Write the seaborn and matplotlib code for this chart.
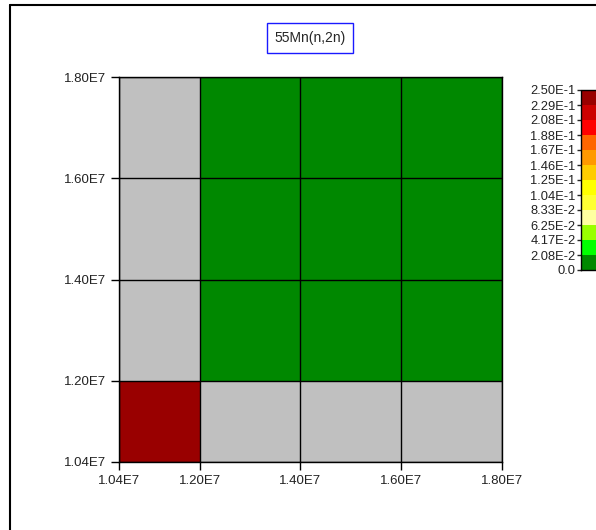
import numpy as np
import matplotlib
matplotlib.use("Agg")
import matplotlib.pyplot as plt
from matplotlib.colors import ListedColormap, BoundaryNorm
from matplotlib.lines import Line2D
import seaborn as sns

# Energy group boundaries (eV)
edges = [1.04e7, 1.20e7, 1.40e7, 1.60e7, 1.80e7]
tick_labels = ["1.04E7", "1.20E7", "1.40E7", "1.60E7", "1.80E7"]

# Relative covariance values (rows = y groups from bottom), NaN = no data
row0 = [0.24, np.nan, np.nan, np.nan]
row1 = [np.nan, 0.0, 0.0, 0.0]
row2 = [np.nan, 0.0, 0.0, 0.0]
row3 = [np.nan, 0.0, 0.0, 0.0]

# Colour scale levels and labels
levels = [0.0, 2.08e-2, 4.17e-2, 6.25e-2, 8.33e-2, 1.04e-1, 1.25e-1,
          1.46e-1, 1.67e-1, 1.88e-1, 2.08e-1, 2.29e-1, 2.50e-1]
level_labels = ["0.0", "2.08E-2", "4.17E-2", "6.25E-2", "8.33E-2", "1.04E-1",
                "1.25E-1", "1.46E-1", "1.67E-1", "1.88E-1", "2.08E-1",
                "2.29E-1", "2.50E-1"]
level_colors = ["#008800", "#00ff00", "#99ff00", "#ffffa0", "#ffff33", "#ffff00",
                "#ffcc00", "#ff9900", "#ff6600", "#ff0000", "#cc0000", "#990000"]

title = "55Mn(n,2n)"

sns.set_style("white")
plt.rcParams["font.family"] = ["Liberation Sans", "DejaVu Sans"]

fig = plt.figure(figsize=(5.96, 5.30), dpi=100)
ax = fig.add_axes([119 / 596, 1 - 462 / 530, 383 / 596, 385 / 530])

cmap = ListedColormap(level_colors)
cmap.set_bad("#c0c0c0")
norm = BoundaryNorm(levels, cmap.N)

data = np.ma.masked_invalid(np.array([row0, row1, row2, row3]))
mesh = ax.pcolormesh(edges, edges, data, cmap=cmap, norm=norm)

ax.set_xlim(edges[0], edges[-1])
ax.set_ylim(edges[0], edges[-1])
ax.set_xticks(edges)
ax.set_yticks(edges)
ax.set_xticklabels(tick_labels)
ax.set_yticklabels(tick_labels)
ax.tick_params(axis="both", direction="out", length=6, width=1, color="black",
               labelsize=9.5, labelcolor="#222222", pad=3, bottom=True, left=True)
ax.grid(True, color="black", linewidth=1)
ax.set_axisbelow(False)
for sp in ax.spines.values():
    sp.set_visible(True)
    sp.set_color("black")
    sp.set_linewidth(1)

# Title in a blue box
fig.text(310 / 596, 1 - 38 / 530, title, ha="center", va="center", fontsize=10,
         bbox=dict(boxstyle="square,pad=0.55", facecolor="white", edgecolor="#1a1aff", linewidth=1))

# Colour bar
cax = fig.add_axes([581 / 596, 1 - 270 / 530, 20 / 596, 180 / 530])
cbar = fig.colorbar(mesh, cax=cax, ticks=levels)
cbar.ax.yaxis.set_ticks_position("left")
cbar.ax.set_yticklabels(level_labels)
cbar.ax.tick_params(length=3, width=1, labelsize=9.3, pad=1, labelcolor="#222222")
cbar.outline.set_edgecolor("black")
cbar.outline.set_linewidth(1)

# Outer frame lines
fig.add_artist(Line2D([10 / 596, 1], [1 - 5 / 530, 1 - 5 / 530], color="black", linewidth=1.5))
fig.add_artist(Line2D([10 / 596, 10 / 596], [0, 1 - 5 / 530], color="black", linewidth=1.5))

fig.savefig("out.png", dpi=100, facecolor="white")
